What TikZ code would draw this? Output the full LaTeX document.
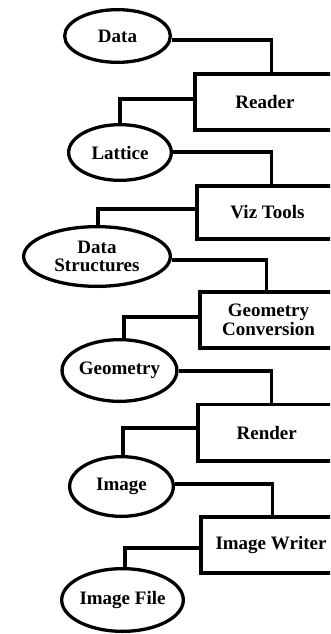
\documentclass[tikz,border=0pt]{standalone}
\usepackage{fontspec}
\setmainfont{Liberation Serif}
\usetikzlibrary{shapes.geometric}

\begin{document}
\begin{tikzpicture}[x=1pt, y=-1pt,
  every node/.style={font=\fontsize{19}{18.5}\selectfont\bfseries, inner sep=0pt, align=center},
  dataitem/.style={ellipse, draw, line width=3.3pt},
  module/.style={rectangle, draw, line width=3.5pt},
  link/.style={line width=3.3pt}]
  \useasboundingbox (0,0) rectangle (330,634);
  \clip (0,0) rectangle (330,634);

  % data items (ellipses)
  \node[dataitem, minimum width=105.7pt, minimum height=52.7pt] (data)     at (117.5,36)  {Data};
  \node[dataitem, minimum width=102.7pt, minimum height=55.7pt] (lattice)  at (120,152.5) {Lattice};
  \node[dataitem, minimum width=146.7pt, minimum height=59.7pt] (ds)       at (97,256.5)  {Data\\Structures};
  \node[dataitem, minimum width=105.7pt, minimum height=61.7pt] (geometry) at (119.5,370.5){Geometry};
  \node[dataitem, minimum width=103.7pt, minimum height=59.7pt] (image)    at (121.5,486.5){Image};
  \node[dataitem, minimum width=105.7pt, minimum height=62.7pt] (imgfile)  at (122.5,600) {Image File};

  % processing modules (boxes running off the right edge)
  \node[module, minimum width=140pt, minimum height=56pt]   (reader) at (265,102)   {Reader};
  \node[module, minimum width=141pt, minimum height=53pt]   (viz)    at (267.5,212.5){Viz Tools};
  \node[module, minimum width=137pt, minimum height=56pt]   (gc)     at (268.5,320) {Geometry\\Conversion};
  \node[module, minimum width=137pt, minimum height=56.5pt] (render) at (266.7,432.7){Render};
  \node[module, minimum width=140pt, minimum height=56pt]   (writer) at (271,545)   {Image Writer};

  % data flowing into modules
  \draw[link] ([yshift=-4pt]data.east)       -| ([xshift=78pt]reader.north west);
  \draw[link] ([yshift=0.5pt]lattice.east)   -| ([xshift=76pt]viz.north west);
  \draw[link] ([yshift=-3.5pt]ds.east)       -| ([xshift=68pt]gc.north west);
  \draw[link] ([yshift=-0.5pt]geometry.east) -| ([xshift=75pt]render.north west);
  \draw[link] ([yshift=2.5pt]image.east)     -| ([xshift=73pt]writer.north west);

  % modules producing data
  \draw[link] ([yshift=3pt]reader.west)    -| (lattice.north);
  \draw[link] ([yshift=3.5pt]viz.west)     -| ([xshift=1pt]ds.north);
  \draw[link] ([yshift=3pt]gc.west)        -| ([xshift=4.5pt]geometry.north);
  \draw[link] ([yshift=4.7pt]render.west)  -| ([xshift=1.5pt]image.north);
  \draw[link] ([yshift=-3pt]writer.west)   -| ([xshift=2.5pt]imgfile.north);
\end{tikzpicture}
\end{document}
